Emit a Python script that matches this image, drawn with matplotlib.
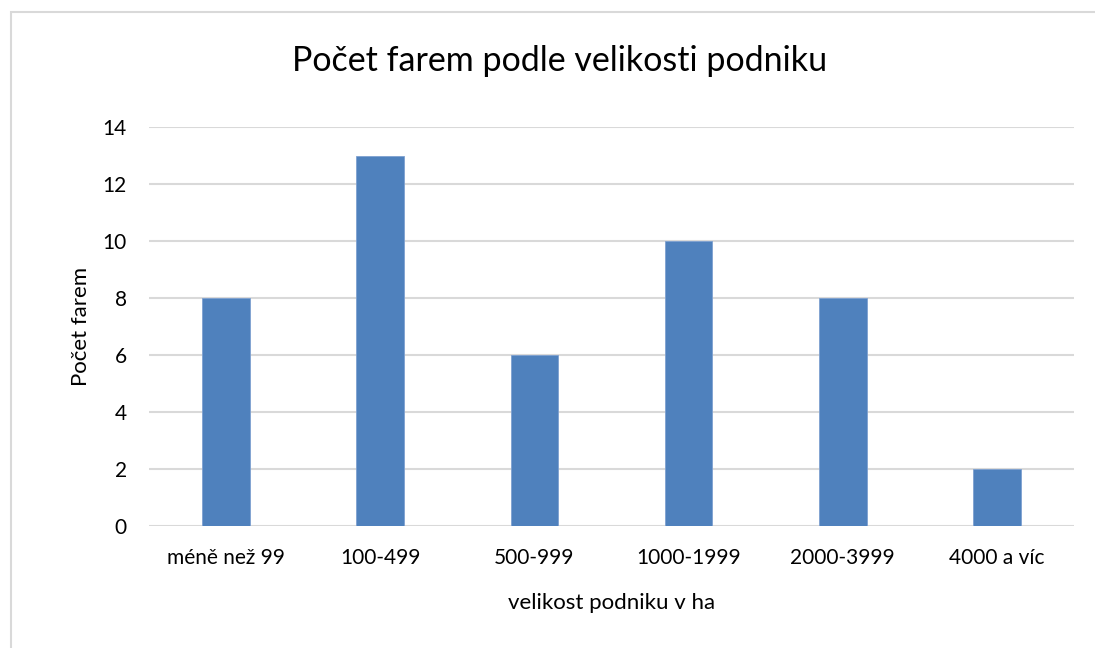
from matplotlib import pyplot as plt
from matplotlib.patches import Rectangle

categories = ["méně než 99", "100-499", "500-999", "1000-1999", "2000-3999", "4000 a víc"]
farms = [8, 13, 6, 10, 8, 2]

plt.rcParams['font.family'] = ['Lato', 'DejaVu Sans']

fig = plt.figure(figsize=(10.95, 6.48), dpi=100)
# light frame of the chart area (left and top edges visible)
fig.patches.append(Rectangle((11 / 1095, -0.1), 1.2, 1 - 12 / 648 + 0.1, transform=fig.transFigure,
                             fill=False, edgecolor='#d9d9d9', linewidth=1.5))

ax = fig.add_axes([149 / 1095, 1 - 526 / 648, 925 / 1095, 399 / 648])
x = range(len(categories))
ax.bar(x, farms, width=0.31, color='#4f81bd', edgecolor='#7ea1d1', linewidth=0.6, zorder=3)

ax.set_xlim(-0.5, len(categories) - 0.5)
ax.set_ylim(0, 14)
ax.set_yticks(range(0, 15, 2))
ax.set_xticks(list(x))
ax.set_xticklabels(categories)
ax.grid(axis='y', color='#d9d9d9', linewidth=1.5, zorder=0)
for s in ax.spines.values():
    s.set_visible(False)
ax.tick_params(axis='both', length=0, labelsize=15, colors='#000000')
ax.tick_params(axis='x', pad=16)
ax.tick_params(axis='y', pad=16)

ax.set_title("Počet farem podle velikosti podniku", fontsize=24.5, pad=40, x=0.444)
ax.set_xlabel("velikost podniku v ha", fontsize=16, labelpad=18)
ax.set_ylabel("Počet farem", fontsize=16, labelpad=8)

fig.savefig("out.png", dpi=100)
